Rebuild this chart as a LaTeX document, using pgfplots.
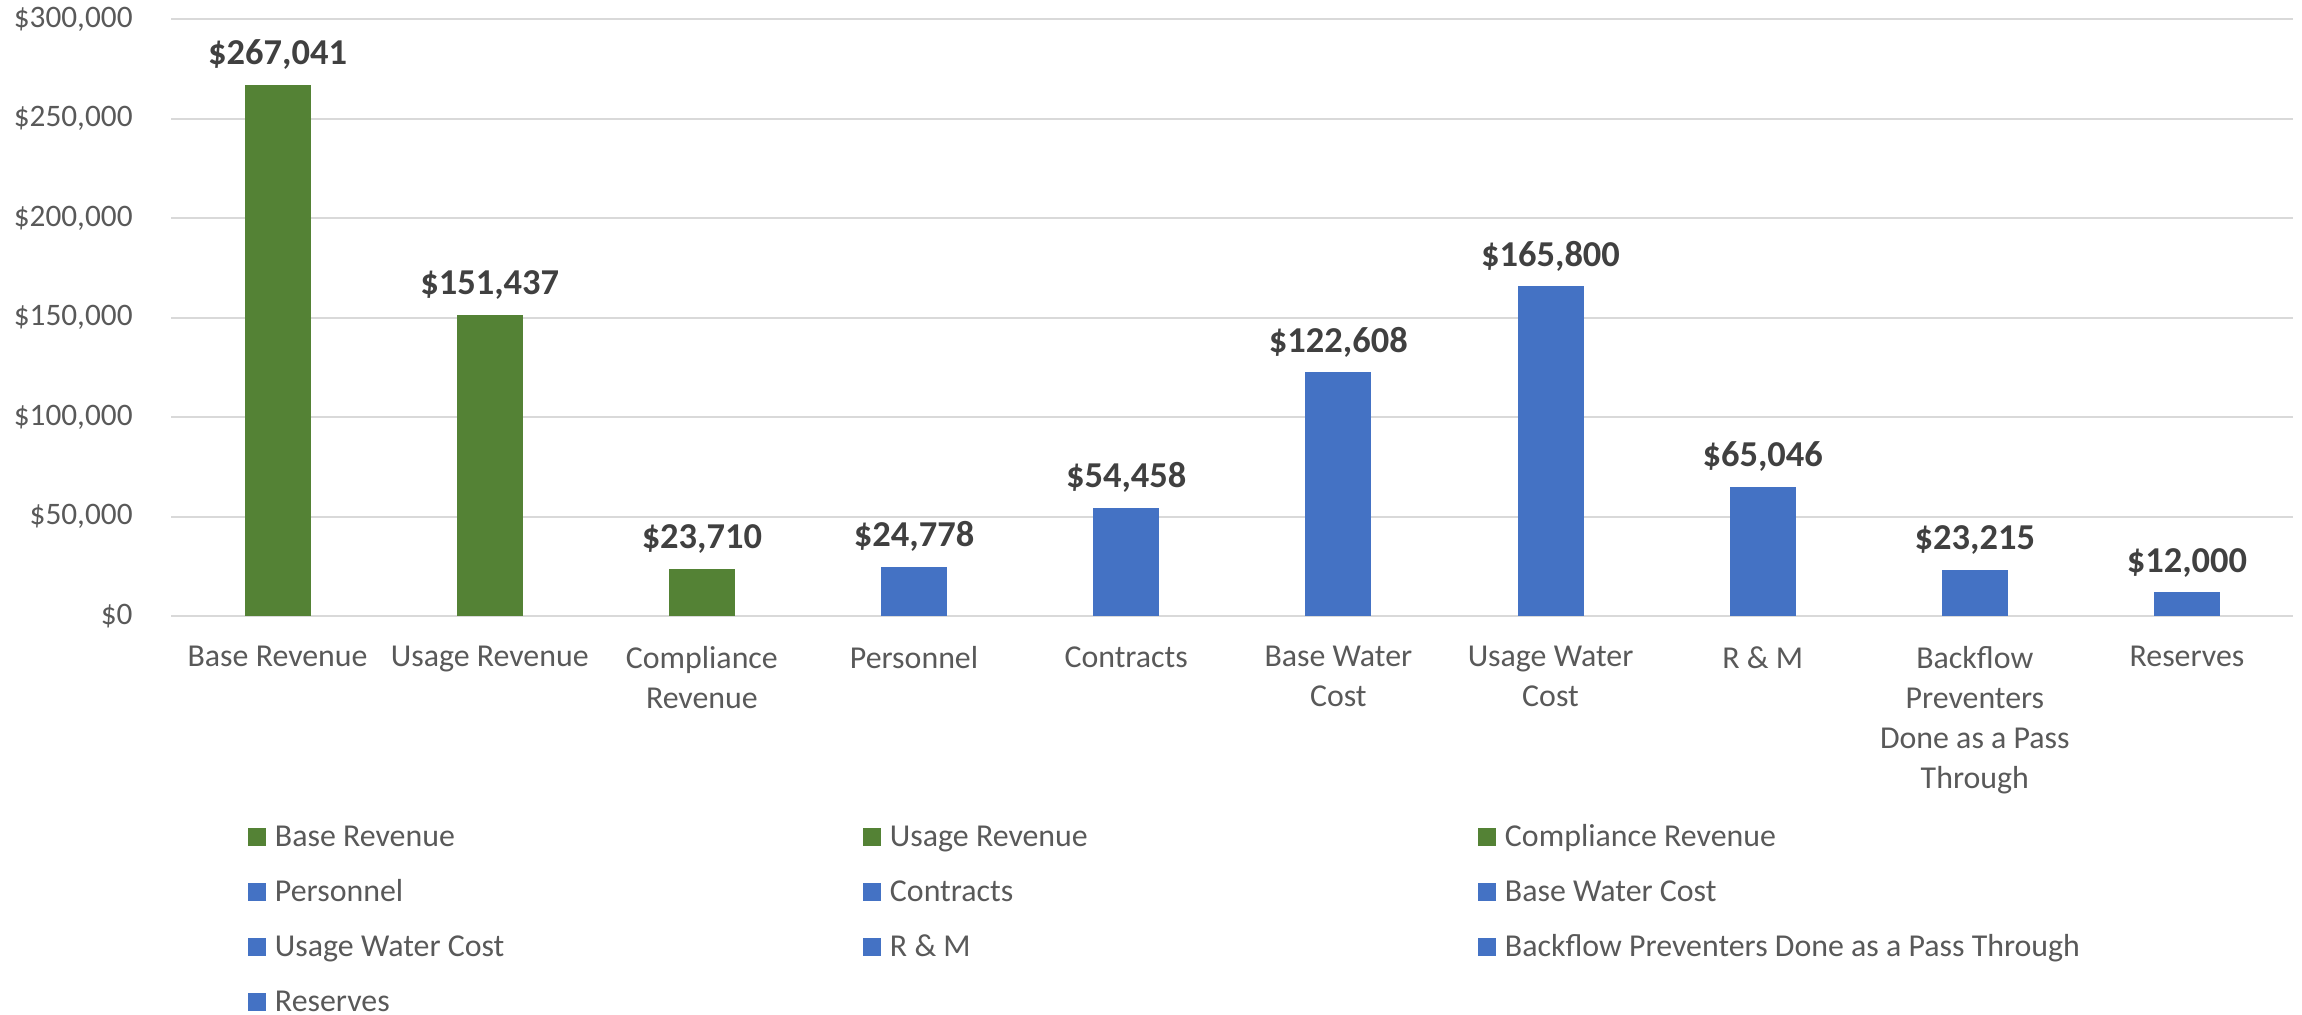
\documentclass[border=0pt]{standalone}
\usepackage{pgfplots}
\pgfplotsset{compat=1.18}
\usepackage{fontspec}
\setmainfont{Carlito}
\definecolor{cgreen}{HTML}{548235}
\definecolor{cblue}{HTML}{4472C4}
\definecolor{ctext}{HTML}{595959}
\definecolor{clabel}{HTML}{404040}
\definecolor{cgrid}{HTML}{D9D9D9}
\begin{document}
\begin{tikzpicture}
\begin{axis}[
  at={(0,0)}, anchor=south west,
  scale only axis, width=1060.75bp, height=298.5bp,
  xmin=-0.5, xmax=9.5, ymin=0, ymax=300000,
  scaled y ticks=false,
  ybar, bar width=33bp, bar shift=0pt,
  axis line style={draw=none},
  ymajorgrids, grid style={cgrid, line width=1bp},
  ytick={0,50000,100000,150000,200000,250000,300000},
  yticklabels={{\$0},{\$50,000},{\$100,000},{\$150,000},{\$200,000},{\$250,000},{\$300,000}},
  xtick={0,1,2,3,4,5,6,7,8,9},
  xticklabels={{Base Revenue},{Usage Revenue},{Compliance\\Revenue},{Personnel},{Contracts},{Base Water\\Cost},{Usage Water\\Cost},{R \& M},{Backflow\\Preventers\\Done as a Pass\\Through},{Reserves}},
  major tick length=0pt,
  tick style={draw=none},
  yticklabel style={font=\fontsize{15.7}{20}\selectfont, text=ctext, inner sep=0pt, anchor=east, xshift=-19.25bp},
  xticklabel style={font=\fontsize{16}{20}\selectfont, text=ctext, inner sep=0pt, anchor=north, align=center, yshift=-15bp},
  nodes near coords={\$\pgfmathprintnumber{\pgfplotspointmeta}},
  every node near coord/.append style={font=\bfseries\fontsize{18.3}{22}\selectfont, text=clabel, inner sep=0pt, anchor=base, yshift=10bp,
     /pgf/number format/.cd, fixed, precision=0, 1000 sep={,}, assume math mode=true},
  legend columns=3,
  legend cell align=left,
  legend image code/.code={\fill[#1] (0bp,-4.5bp) rectangle (9bp,4.5bp);},
  legend style={at={(0,0)}, anchor=north west, xshift=38.25bp, yshift=-104.25bp,
     draw=none, fill=none, inner sep=0pt, outer sep=0pt, row sep=15bp, column sep=0pt,
     nodes={inner sep=0pt, text width=294bp, align=flush left, text height=11bp, text depth=1.5bp, font=\fontsize{16}{20}\selectfont, text=ctext},
     /tikz/every odd column/.append style={column sep=4.5bp}},
]
\addplot[fill=cgreen, draw=none] coordinates {(0,267041)};
\addlegendentry{Base Revenue}
\addplot[fill=cgreen, draw=none] coordinates {(1,151437)};
\addlegendentry{Usage Revenue}
\addplot[fill=cgreen, draw=none] coordinates {(2,23710)};
\addlegendentry{Compliance Revenue}
\addplot[fill=cblue, draw=none] coordinates {(3,24778)};
\addlegendentry{Personnel}
\addplot[fill=cblue, draw=none] coordinates {(4,54458)};
\addlegendentry{Contracts}
\addplot[fill=cblue, draw=none] coordinates {(5,122608)};
\addlegendentry{Base Water Cost}
\addplot[fill=cblue, draw=none] coordinates {(6,165800)};
\addlegendentry{Usage Water Cost}
\addplot[fill=cblue, draw=none] coordinates {(7,65046)};
\addlegendentry{R \& M}
\addplot[fill=cblue, draw=none] coordinates {(8,23215)};
\addlegendentry{Backflow Preventers Done as a Pass Through}
\addplot[fill=cblue, draw=none] coordinates {(9,12000)};
\addlegendentry{Reserves}
\end{axis}
\path (-85.75bp,-199.5bp) rectangle (1065.25bp,308bp);
\end{tikzpicture}
\end{document}
